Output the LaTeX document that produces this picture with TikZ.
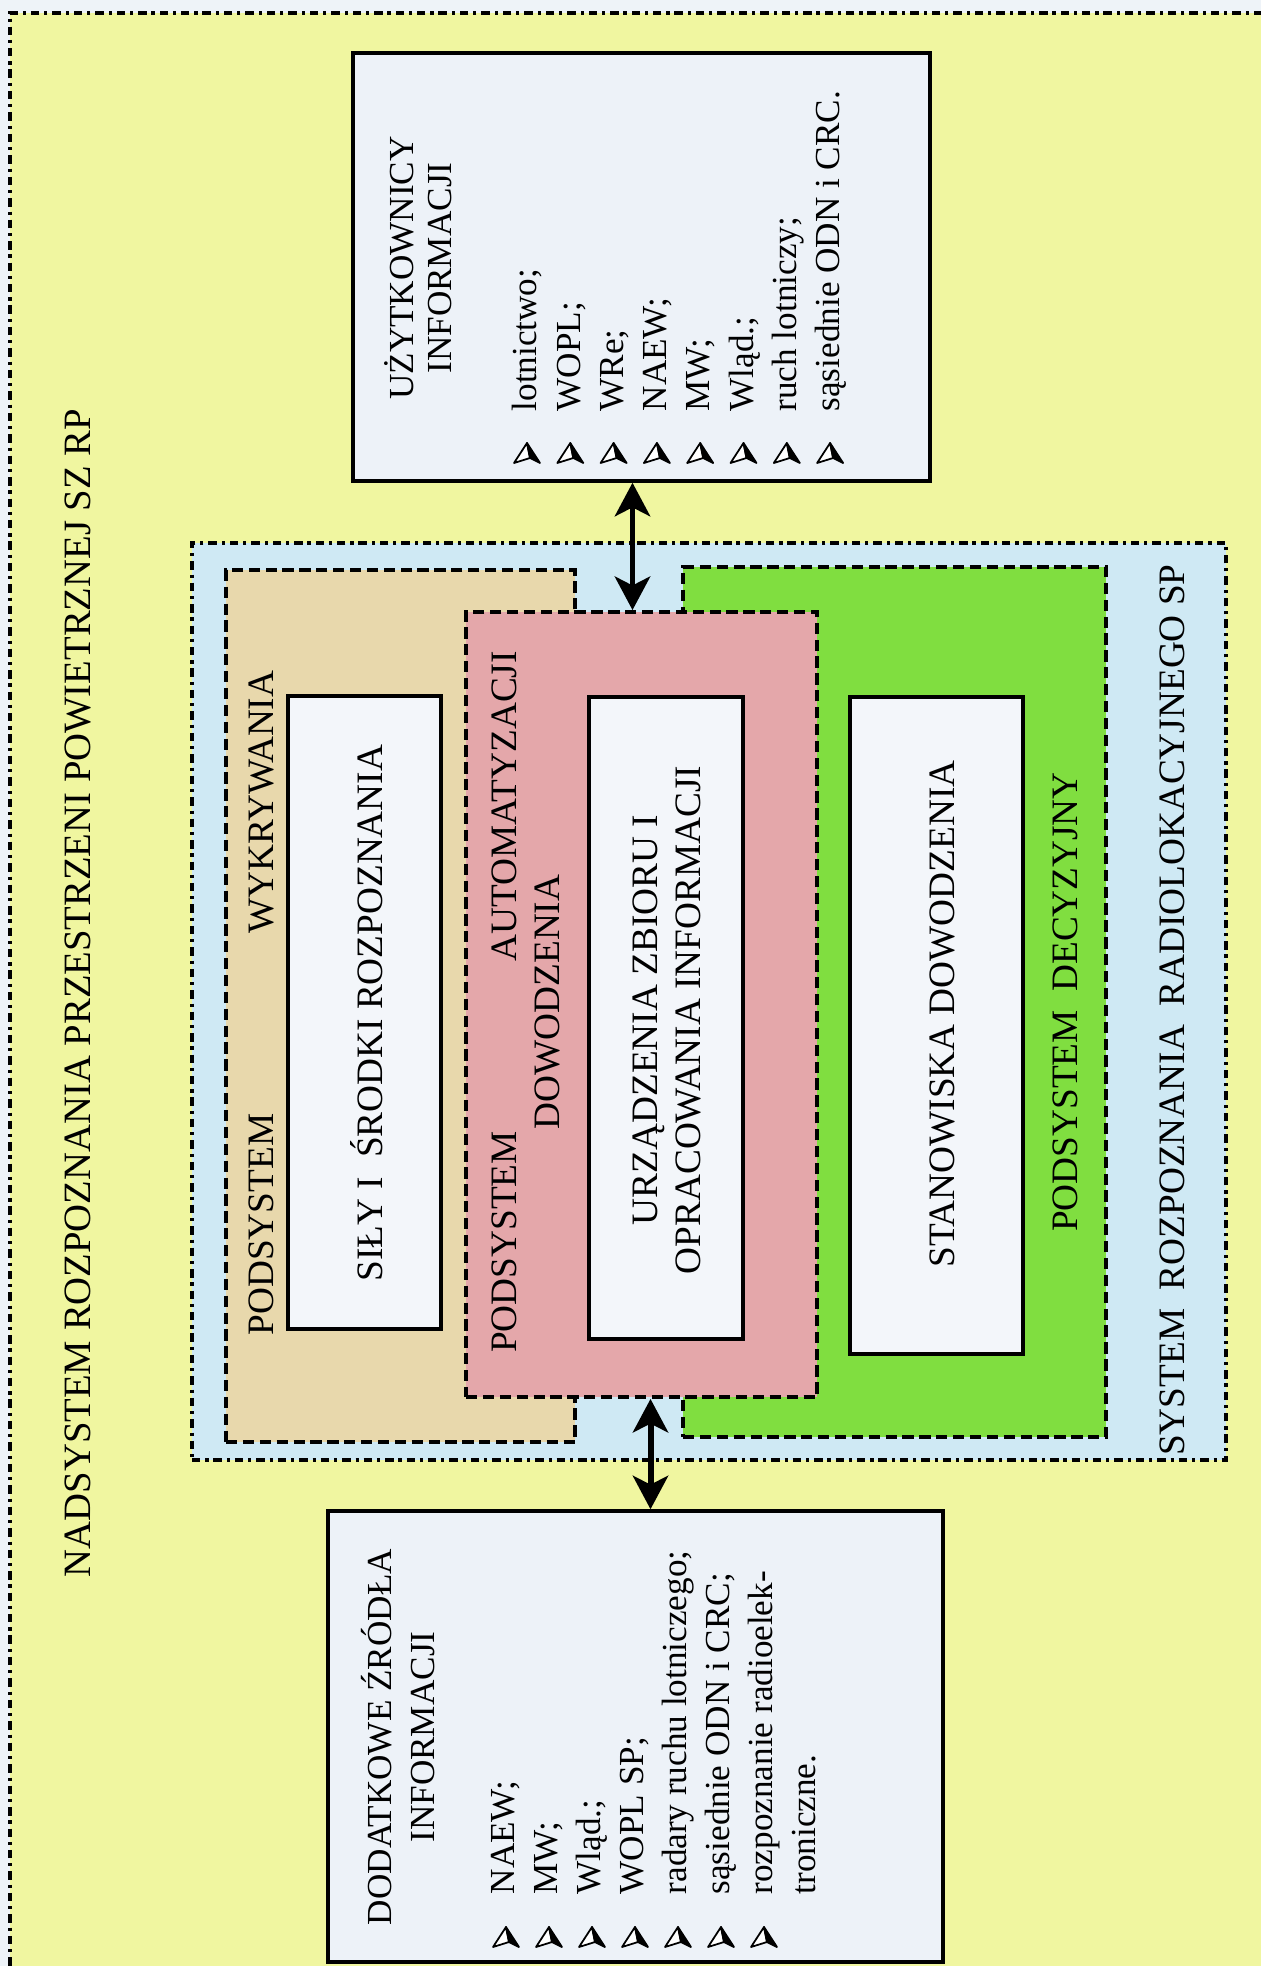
\documentclass[tikz,border=0pt]{standalone}
\usepackage{fontspec}
\setmainfont{Liberation Serif}
\usepackage{tikz}
\usetikzlibrary{arrows.meta,fit}
\definecolor{paper}{HTML}{EEF3F8}
\definecolor{nad}{HTML}{F0F6A0}
\definecolor{sys}{HTML}{CFE9F4}
\definecolor{wykr}{HTML}{E8D8AC}
\definecolor{autom}{HTML}{E4A7AA}
\definecolor{decyz}{HTML}{80DE40}
\definecolor{inner}{HTML}{F3F6FA}
\definecolor{info}{HTML}{EDF2F8}
\tikzset{
  dashdot/.style={draw=black, line width=1.1pt, dash pattern=on 2.4pt off 1.4pt on 0.9pt off 1.4pt},
  subsys/.style={draw=black, line width=1.1pt, dash pattern=on 3.2pt off 1.6pt},
  solidbox/.style={draw=black, line width=1pt},
  frame/.style={inner sep=0pt},
  lab/.style={rotate=90, align=center, font=\fontsize{10.6}{12.2}\selectfont, inner sep=0pt},
  entry/.style={rotate=90, anchor=west, font=\fontsize{10}{12}\selectfont, inner sep=0pt, text height=7pt, text depth=2pt},
  dbl/.style={line width=1.7pt, {Stealth[length=9.5pt,width=10pt,inset=2.5pt]}-{Stealth[length=9.5pt,width=10pt,inset=2.5pt]}},
  arrbullet/.pic={
    \filldraw[fill=white, draw=black, line width=0.5pt, line join=round] (0,-10) -- (-13,10) -- (3,5) -- cycle;
    \filldraw[line width=0.5pt, line join=round] (0,-10) -- (3,5) -- (13,10) -- cycle;
  },
}

\begin{document}
\begin{tikzpicture}[x=0.01cm, y=-0.01cm]
  \useasboundingbox (0,0) rectangle (1261,1966);
  \clip (0,0) rectangle (1261,1966);
  \fill[paper] (0,0) rectangle (1261,1966);

  % nadsystem
  \node[frame, fit={(10,13) (1300,2010)}, fill=nad, dashdot] (nadsys) {};
  \node[lab, font=\fontsize{11}{13}\selectfont] (nadlab) at (78,993) {NADSYSTEM ROZPOZNANIA PRZESTRZENI POWIETRZNEJ SZ RP};

  % system rozpoznania radiolokacyjnego
  \node[frame, fit={(192,543) (1226,1460)}, fill=sys, dashdot] (srl) {};
  \node[frame, fit={(226,570) (575,1442)}, fill=wykr, subsys] (wykr) {};
  \node[frame, fit={(683,567) (1106,1437)}, fill=decyz, subsys] (decyz) {};
  \node[frame, fit={(466,612) (817,1397)}, fill=autom, subsys] (autom) {};

  \node[frame, fit={(288,696) (441,1329)}, fill=inner, solidbox] (sily) {};
  \node[frame, fit={(589,697) (743,1339)}, fill=inner, solidbox] (urz) {};
  \node[frame, fit={(850,697) (1023,1354)}, fill=inner, solidbox] (stan) {};

  \node[lab] (wykrlab) at (261,1003) {PODSYSTEM\hspace{1.8cm}WYKRYWANIA};
  \node[lab] (silylab) at (367,1013) {SIŁY I\ \ ŚRODKI ROZPOZNANIA};
  \node[lab] (automlab) at (526,1002) {PODSYSTEM\hspace{1.7cm}AUTOMATYZACJI\\DOWODZENIA};
  \node[lab] (urzlab) at (667,1020) {URZĄDZENIA ZBIORU I\\OPRACOWANIA INFORMACJI};
  \node[lab] (stanlab) at (942,1014) {STANOWISKA DOWODZENIA};
  \node[lab] (decyzlab) at (1065,1002) {PODSYSTEM\ \ DECYZYJNY};
  \node[lab] (srllab) at (1172,1010) {SYSTEM\ \ ROZPOZNANIA\ \ RADIOLOKACYJNEGO SP};

  % uzytkownicy i zrodla
  \node[frame, fit={(353,53) (930,481)}, fill=info, solidbox] (users) {};
  \node[frame, fit={(328,1511) (943,1962)}, fill=info, solidbox] (sources) {};

  \node[lab, font=\fontsize{10}{11}\selectfont] (userslab) at (418,268) {UŻYTKOWNICY\\INFORMACJI};
  \foreach \t [count=\i from 0] in {lotnictwo;, WOPL;, WRe;, NAEW;, MW;, Wląd.;, ruch lotniczy;, sąsiednie ODN i CRC.}{
    \node[entry] (usr-\i) at (528+43.3*\i,412) {\t};
    \pic at (527+43.3*\i,453) {arrbullet};
  }

  \node[lab, font=\fontsize{10}{12.2}\selectfont] (sourceslab) at (398,1737) {DODATKOWE ŹRÓDŁA\\INFORMACJI};
  \foreach \t [count=\i from 0] in {NAEW;, MW;, Wląd.;, WOPL SP;, radary ruchu lotniczego;, sąsiednie ODN i CRC;, rozpoznanie radioelek-}{
    \node[entry] (src-\i) at (506+43*\i,1895) {\t};
    \pic at (506+43*\i,1937) {arrbullet};
  }
  \node[entry] (src-7) at (807,1895) {troniczne.};

  \draw[dbl] ([xshift=-0.09cm]users.south) -- ([xshift=-0.09cm]autom.north);
  \draw[dbl] ([xshift=0.09cm]autom.south) -- ([xshift=0.09cm]autom.south |- sources.north);
\end{tikzpicture}
\end{document}
